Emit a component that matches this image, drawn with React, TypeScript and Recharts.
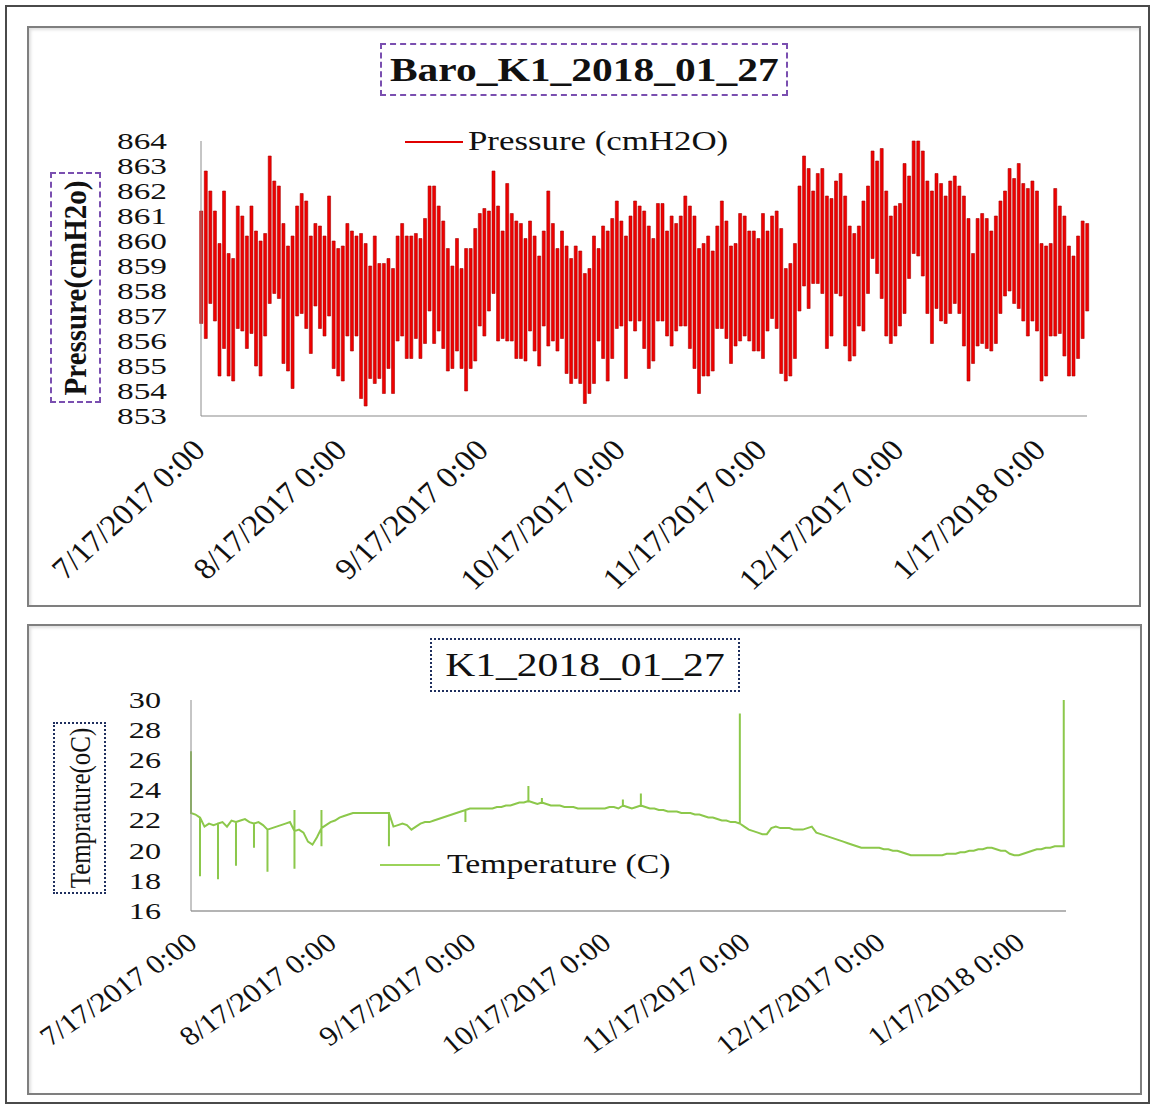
import React from 'react';
import { ComposedChart, LineChart, Bar, Line, XAxis, YAxis, Legend } from 'recharts';

const serif = '"Liberation Serif", "Times New Roman", serif';

// x axis: days counted from 7/17/2017 0:00
const tickDays = [0, 31, 62, 92, 123, 153, 184];
const tickLabels = [
  '7/17/2017 0:00',
  '8/17/2017 0:00',
  '9/17/2017 0:00',
  '10/17/2017 0:00',
  '11/17/2017 0:00',
  '12/17/2017 0:00',
  '1/17/2018 0:00',
];
const pressureTicks = [853, 854, 855, 856, 857, 858, 859, 860, 861, 862, 863, 864];
const tempTicks = [16, 18, 20, 22, 24, 26, 28, 30];

// daily high / low of the pressure record (cmH2O)
const pressureHigh = [
  861.2, 862.8, 862.0, 861.2, 859.9, 862.0, 859.5, 859.3, 861.4, 861.0,
  860.2, 861.4, 860.4, 860.0, 860.3, 863.4, 862.4, 862.2, 860.7, 859.8,
  860.2, 861.4, 861.9, 861.6, 860.2, 860.7, 860.6, 860.2, 861.8, 860.0,
  859.7, 859.8, 860.7, 860.4, 860.2, 860.3, 859.9, 859.0, 860.2, 859.1,
  859.1, 859.3, 858.9, 860.2, 860.7, 860.2, 860.2, 860.3, 860.1,
  860.9, 862.2, 862.2, 861.4, 860.8, 859.7, 859.0, 860.1, 858.9, 859.7,
  859.7, 860.5, 861.1, 861.3, 861.2, 862.8, 861.4, 860.4, 862.3, 861.1,
  860.8, 860.7, 860.1, 860.8, 860.2, 859.4, 860.4, 862.0, 860.7, 859.7,
  860.4, 859.8, 859.3, 859.8, 859.6, 858.7, 858.9, 860.2, 859.7, 860.6,
  860.4, 860.9, 861.6, 860.8, 860.2, 861.0, 861.6, 861.4,
  861.2, 860.6, 860.1, 861.5, 861.5, 860.4, 861.0, 860.7, 861.0, 861.8,
  861.4, 861.0, 859.7, 859.9, 860.2, 859.6, 860.6, 861.6, 860.8, 859.8,
  859.9, 861.1, 861.0, 860.4, 860.4, 860.1, 861.1, 860.4, 861.0, 861.2,
  860.5, 858.9, 859.1, 859.9, 862.2, 863.4, 862.9, 862.0, 862.7, 862.9,
  861.8, 861.7, 862.4, 862.7, 861.8, 860.6, 860.3, 860.6,
  861.6, 862.2, 863.6, 863.2, 863.7, 862.0, 861.0, 861.4, 861.5, 863.1,
  862.6, 864.0, 864.0, 863.6, 862.4, 862.0, 862.7, 862.3, 861.8, 862.4,
  862.6, 862.2, 861.8, 860.9, 859.5, 860.9, 861.1, 860.9, 860.4, 861.0,
  861.6, 862.0, 862.9, 862.5, 863.1, 862.3, 862.1, 862.4, 862.0, 859.9,
  859.8, 859.9, 862.1, 861.4, 861.0, 859.8, 859.4, 860.2, 860.8, 860.7,
];
const pressureLow = [
  856.7, 856.1, 857.5, 856.8, 854.6, 855.7, 854.6, 854.4, 856.5, 856.4,
  855.7, 856.3, 855.0, 854.6, 856.2, 857.5, 857.9, 857.7, 855.1, 854.8,
  854.1, 857.0, 857.1, 856.5, 855.5, 857.4, 856.5, 856.2, 857.0, 854.9,
  854.6, 854.4, 856.2, 855.6, 856.2, 853.7, 853.4, 854.5, 854.3, 854.5,
  853.9, 854.9, 853.9, 856.0, 856.2, 855.3, 855.3, 856.1, 855.3,
  855.9, 857.2, 855.9, 856.4, 855.7, 854.8, 854.9, 855.6, 854.9, 854.0,
  854.9, 855.2, 856.6, 856.2, 857.2, 857.9, 856.0, 856.1, 856.0, 856.0,
  855.3, 855.3, 855.2, 856.4, 855.6, 855.0, 856.6, 855.8, 856.0, 855.6,
  856.1, 854.7, 854.3, 854.5, 854.3, 853.5, 853.9, 854.3, 856.0, 855.3,
  854.4, 855.3, 856.5, 856.6, 854.5, 856.8, 856.4, 856.8,
  855.7, 854.9, 855.2, 856.8, 856.8, 856.2, 855.8, 856.4, 856.6, 856.6,
  855.7, 854.9, 853.9, 854.6, 854.6, 854.8, 856.5, 856.5, 856.1, 855.1,
  855.8, 856.0, 856.2, 856.0, 855.6, 855.6, 855.3, 856.4, 856.9, 856.5,
  854.7, 854.4, 854.6, 855.3, 857.2, 858.2, 857.3, 858.3, 858.3, 857.9,
  855.7, 856.2, 857.9, 857.8, 855.8, 855.2, 855.4, 856.6,
  856.4, 857.9, 859.3, 858.7, 857.7, 856.2, 855.9, 856.2, 856.6, 857.1,
  858.5, 859.5, 859.4, 858.6, 857.1, 855.9, 857.3, 856.8, 856.7, 857.1,
  857.5, 857.1, 855.8, 854.4, 855.1, 855.8, 855.9, 855.7, 855.6, 855.9,
  857.1, 857.8, 858.0, 857.5, 857.3, 856.8, 856.2, 856.8, 856.4, 854.4,
  854.6, 856.2, 856.2, 856.3, 855.4, 854.6, 854.6, 855.3, 856.1, 857.2,
];

// daily temperature (C) and the short spikes recorded on some days
const tempDaily = [
  22.5, 22.4, 22.2, 21.6, 21.8, 21.7, 21.8, 21.9, 21.6, 22.0,
  21.9, 22.0, 22.1, 21.9, 21.8, 21.9, 21.7, 21.4, 21.5, 21.6,
  21.7, 21.8, 21.9, 21.3, 21.4, 21.2, 20.6, 20.4, 20.9, 21.5,
  21.7, 21.9, 22.0, 22.2, 22.3, 22.4, 22.5, 22.5, 22.5, 22.5,
  22.5, 22.5, 22.5, 22.5, 22.5, 21.6, 21.7, 21.8, 21.7, 21.4,
  21.6, 21.8, 21.9, 21.9, 22.0, 22.1, 22.2, 22.3, 22.4, 22.5,
  22.6, 22.7, 22.8, 22.8, 22.8, 22.8, 22.8, 22.8, 22.9, 22.9,
  23.0, 23.0, 23.1, 23.2, 23.2, 23.3, 23.2, 23.1, 23.2, 23.1,
  23.0, 23.0, 23.0, 22.9, 22.9, 22.9, 22.8, 22.8, 22.8, 22.8,
  22.8, 22.8, 22.8, 22.9, 22.9, 22.8, 23.0, 22.9, 22.8, 22.9,
  23.0, 22.9, 22.8, 22.8, 22.7, 22.7, 22.6, 22.6, 22.6, 22.5,
  22.5, 22.5, 22.4, 22.4, 22.3, 22.2, 22.2, 22.1, 22.0, 22.0,
  21.9, 21.9, 21.8, 21.6, 21.4, 21.3, 21.2, 21.1, 21.1, 21.5,
  21.6, 21.5, 21.5, 21.5, 21.4, 21.4, 21.4, 21.5, 21.6, 21.2,
  21.1, 21.0, 20.9, 20.8, 20.7, 20.6, 20.5, 20.4, 20.3, 20.2,
  20.2, 20.2, 20.2, 20.2, 20.1, 20.1, 20.0, 20.0, 19.9, 19.8,
  19.7, 19.7, 19.7, 19.7, 19.7, 19.7, 19.7, 19.7, 19.8, 19.8,
  19.8, 19.9, 19.9, 20.0, 20.0, 20.1, 20.1, 20.2, 20.2, 20.1,
  20.0, 20.0, 19.8, 19.7, 19.7, 19.8, 19.9, 20.0, 20.1, 20.1,
  20.2, 20.2, 20.3, 20.3, 20.3,
];
const tempSpikeDays = [0, 2, 6, 10, 14, 17, 23, 23, 29, 29, 44, 61, 75, 78, 96, 100, 122, 194];
const tempSpikeValues = [26.6, 18.3, 18.1, 19.0, 20.2, 18.6, 22.7, 18.8, 22.7, 20.3, 20.3, 21.9, 24.3, 23.5, 23.4, 23.8, 29.1, 30.0];

const pressureRows = pressureHigh.map((high, day) => ({ day, range: [pressureLow[day], high] }));

const tempRows: { day: number; temp: number }[] = [];
tempDaily.forEach((temp, day) => {
  tempRows.push({ day, temp });
  let spiked = false;
  tempSpikeDays.forEach((d, j) => {
    if (d === day) {
      tempRows.push({ day, temp: tempSpikeValues[j] });
      spiked = true;
    }
  });
  if (spiked) tempRows.push({ day, temp });
});

// rotated date label, stretched a little the way the source image is
const DateTick = (props: any) => {
  const { x, y, payload, dx, dy, size, sx, angle } = props;
  const label = tickLabels[tickDays.indexOf(payload.value)];
  return (
    <g transform={`translate(${x + dx},${y + dy}) scale(${sx},1)`}>
      <text transform={`rotate(${angle})`} textAnchor="end" fontFamily={serif} fontSize={size} fill="#111">
        {label}
      </text>
    </g>
  );
};

const ValueTick = (props: any) => {
  const { x, y, payload, size, sx } = props;
  return (
    <g transform={`translate(${x},${y}) scale(${sx},1)`}>
      <text textAnchor="end" dominantBaseline="central" fontFamily={serif} fontSize={size} fill="#111">
        {payload.value}
      </text>
    </g>
  );
};

const stretched = (sx: number): React.CSSProperties => ({
  display: 'inline-block',
  transform: `scaleX(${sx})`,
  transformOrigin: 'left center',
  whiteSpace: 'nowrap',
});

const LegendItem = ({ color, text, lineWidth, gap, size, sx }: any) => (
  <div style={{ display: 'flex', alignItems: 'center', fontFamily: serif, fontSize: size, color: '#111', lineHeight: 1 }}>
    <div style={{ width: lineWidth, height: 2, background: color, marginRight: gap }} />
    <span style={stretched(sx)}>{text}</span>
  </div>
);

export default function App() {
  return (
    <div style={{ position: 'absolute', left: 0, top: 0, width: 1150, height: 1106, background: '#fff' }}>
      {/* outer frame */}
      <div style={{ position: 'absolute', left: 5, top: 5, width: 1141, height: 1095, border: '2px solid #4a4a4a' }} />

      {/* ---------- pressure panel ---------- */}
      <div style={{ position: 'absolute', left: 27, top: 26, width: 1110, height: 577, border: '2px solid #7f7f7f', boxShadow: 'inset 2px 2px 3px #e0e0e0' }} />
      <div style={{ position: 'absolute', left: 28, top: 27 }}>
        <ComposedChart width={1111} height={578} data={pressureRows} margin={{ top: 114, right: 52, bottom: 0, left: 0 }}>
          <XAxis
            dataKey="day"
            type="number"
            domain={[0, 194]}
            ticks={tickDays}
            interval={0}
            height={189}
            tickLine={false}
            tickSize={0}
            tickMargin={0}
            axisLine={{ stroke: '#c4c4c4', strokeWidth: 2 }}
            tick={(p: any) => <DateTick {...p} dx={6} dy={36} size={30} sx={1.1} angle={-45} />}
          />
          <YAxis
            type="number"
            domain={[853, 864]}
            ticks={pressureTicks}
            interval={0}
            width={173}
            tickLine={false}
            tickSize={0}
            tickMargin={34}
            axisLine={{ stroke: '#8c8c8c', strokeWidth: 1 }}
            tick={(p: any) => <ValueTick {...p} size={22.5} sx={1.48} />}
          />
          <Legend
            layout="horizontal"
            verticalAlign="middle"
            content={() => (
              <LegendItem color="#e00000" text="Pressure (cmH2O)" lineWidth={58} gap={5} size={27} sx={1.29} />
            )}
            wrapperStyle={{ position: 'absolute', left: 377, top: 101, width: 'auto' }}
          />
          <Bar dataKey="range" barSize={3} fill="#f00000" stroke="#a80000" strokeWidth={0.6} isAnimationActive={false} />
        </ComposedChart>
      </div>
      <div style={{ position: 'absolute', left: 380, top: 43, width: 404, height: 49, border: '2px dashed #7a4fb0', display: 'flex', alignItems: 'center', justifyContent: 'center', fontFamily: serif, fontWeight: 'bold', fontSize: 34, color: '#111' }}>
        <span style={{ display: 'inline-block', transform: 'scaleX(1.22)', whiteSpace: 'nowrap' }}>Baro_K1_2018_01_27</span>
      </div>
      <div style={{ position: 'absolute', left: 50, top: 172, width: 47, height: 227, border: '2px dashed #7a4fb0' }}>
        <div style={{ position: 'absolute', left: '50%', top: '50%', transform: 'translate(-50%,-50%) scaleX(1.1) rotate(-90deg)', fontFamily: serif, fontWeight: 'bold', fontSize: 29, whiteSpace: 'nowrap', color: '#111', lineHeight: 1 }}>
          Pressure(cmH2o)
        </div>
      </div>

      {/* ---------- temperature panel ---------- */}
      <div style={{ position: 'absolute', left: 27, top: 624, width: 1111, height: 467, border: '2px solid #7f7f7f', boxShadow: 'inset 2px 2px 3px #e0e0e0' }} />
      <div style={{ position: 'absolute', left: 28, top: 626 }}>
        <LineChart width={1112} height={467} data={tempRows} margin={{ top: 74, right: 74, bottom: 0, left: 0 }}>
          <XAxis
            dataKey="day"
            type="number"
            domain={[0, 194.5]}
            ticks={tickDays}
            interval={0}
            height={182}
            tickLine={false}
            tickSize={0}
            tickMargin={0}
            axisLine={{ stroke: '#b4b4b4', strokeWidth: 2 }}
            tick={(p: any) => <DateTick {...p} dx={8} dy={35} size={27} sx={1.15} angle={-38} />}
          />
          <YAxis
            type="number"
            domain={[16, 30]}
            ticks={tempTicks}
            interval={0}
            width={163}
            tickLine={false}
            tickSize={0}
            tickMargin={30}
            axisLine={{ stroke: '#8c8c8c', strokeWidth: 1 }}
            tick={(p: any) => <ValueTick {...p} size={23} sx={1.4} />}
          />
          <Legend
            layout="horizontal"
            verticalAlign="middle"
            content={() => (
              <LegendItem color="#9bd35a" text="Temperature (C)" lineWidth={60} gap={7} size={27} sx={1.25} />
            )}
            wrapperStyle={{ position: 'absolute', left: 352, top: 225, width: 'auto' }}
          />
          <Line
            type="linear"
            dataKey="temp"
            stroke="#8cc84b"
            strokeWidth={2}
            dot={false}
            isAnimationActive={false}
          />
        </LineChart>
      </div>
      <div style={{ position: 'absolute', left: 430, top: 638, width: 306, height: 50, border: '2px dotted #1f2f5f', display: 'flex', alignItems: 'center', justifyContent: 'center', fontFamily: serif, fontSize: 33, color: '#111' }}>
        <span style={{ display: 'inline-block', transform: 'scaleX(1.26)', whiteSpace: 'nowrap' }}>K1_2018_01_27</span>
      </div>
      <div style={{ position: 'absolute', left: 53, top: 722, width: 49, height: 168, border: '2px dotted #1f2f5f' }}>
        <div style={{ position: 'absolute', left: '50%', top: '50%', transform: 'translate(-50%,-50%) scaleX(1.2) rotate(-90deg)', fontFamily: serif, fontSize: 25, whiteSpace: 'nowrap', color: '#111', lineHeight: 1 }}>
          Temprature(oC)
        </div>
      </div>
    </div>
  );
}
